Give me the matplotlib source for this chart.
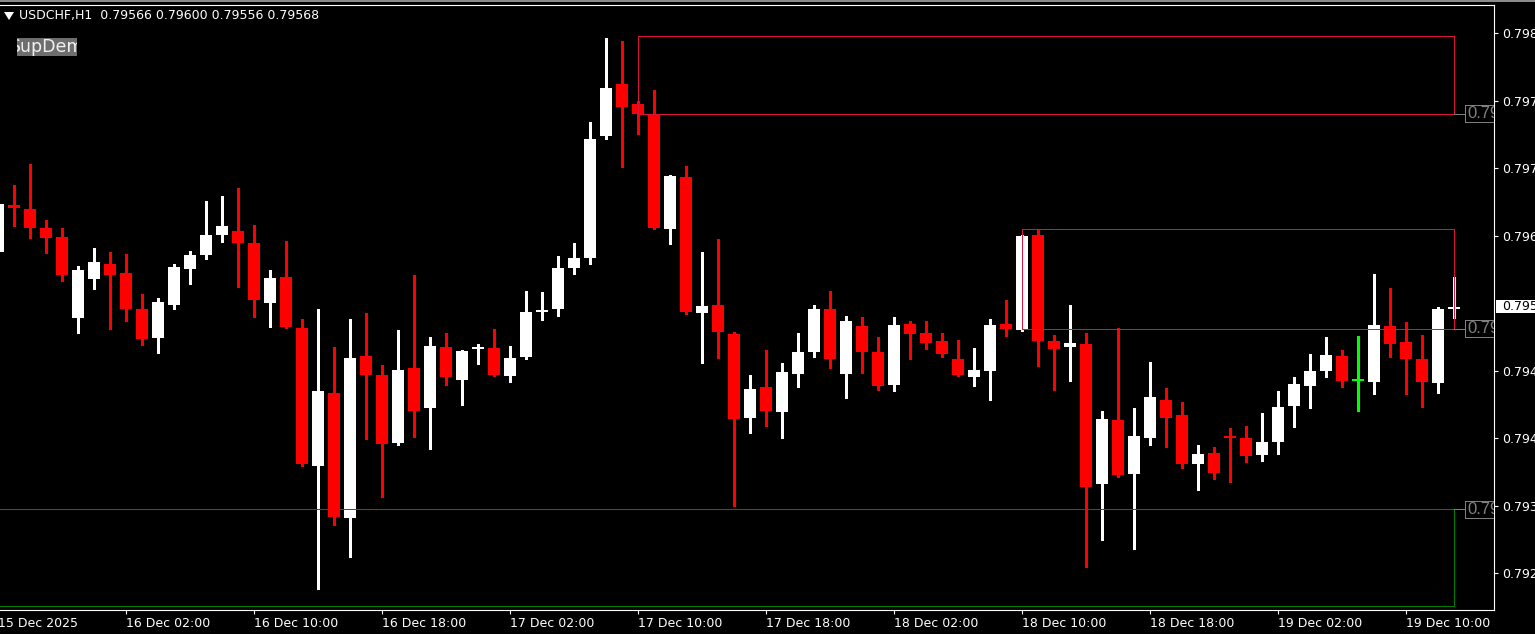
import matplotlib
matplotlib.use('Agg')
import matplotlib.pyplot as plt
from matplotlib.patches import Rectangle, Polygon
from matplotlib.lines import Line2D
from matplotlib.transforms import blended_transform_factory
import numpy as np
import pandas as pd

plt.rcParams['font.family'] = ['DejaVu Sans']

symbol = 'USDCHF,H1'
first_bar = '2025-12-15 18:00'

# H1 bars, oldest first
opens = [0.79627, 0.79678, 0.79674, 0.79653, 0.79644, 0.79556, 0.79598, 0.79614, 0.79605, 0.79566,
         0.79534, 0.79570, 0.79609, 0.79624, 0.79646, 0.79650, 0.79637, 0.79572, 0.79600, 0.79545,
         0.79396, 0.79475, 0.79340, 0.79515, 0.79494, 0.79421, 0.79502, 0.79458, 0.79525, 0.79489,
         0.79522, 0.79523, 0.79493, 0.79514, 0.79562, 0.79566, 0.79610, 0.79621, 0.79753, 0.79809,
         0.79787, 0.79777, 0.79652, 0.79708, 0.79561, 0.79570, 0.79539, 0.79448, 0.79481, 0.79454,
         0.79495, 0.79519, 0.79566, 0.79495, 0.79547, 0.79519, 0.79483, 0.79549, 0.79540, 0.79531,
         0.79512, 0.79492, 0.79499, 0.79549, 0.79543, 0.79646, 0.79531, 0.79525, 0.79528, 0.79376,
         0.79446, 0.79387, 0.79426, 0.79467, 0.79451, 0.79398, 0.79410, 0.79428, 0.79426, 0.79408,
         0.79422, 0.79461, 0.79482, 0.79498, 0.79515, 0.79489, 0.79487, 0.79547, 0.79530, 0.79511,
         0.79486, 0.79566]
highs = [0.79681, 0.79700, 0.79723, 0.79662, 0.79653, 0.79612, 0.79632, 0.79627, 0.79625, 0.79582,
         0.79577, 0.79614, 0.79628, 0.79682, 0.79688, 0.79697, 0.79656, 0.79608, 0.79639, 0.79555,
         0.79566, 0.79525, 0.79555, 0.79561, 0.79505, 0.79543, 0.79602, 0.79535, 0.79540, 0.79521,
         0.79528, 0.79544, 0.79526, 0.79585, 0.79584, 0.79623, 0.79637, 0.79768, 0.79859, 0.79856,
         0.79791, 0.79802, 0.79711, 0.79720, 0.79627, 0.79641, 0.79541, 0.79494, 0.79521, 0.79507,
         0.79540, 0.79570, 0.79585, 0.79558, 0.79557, 0.79535, 0.79557, 0.79553, 0.79553, 0.79540,
         0.79532, 0.79523, 0.79555, 0.79575, 0.79646, 0.79652, 0.79537, 0.79570, 0.79540, 0.79455,
         0.79545, 0.79458, 0.79508, 0.79480, 0.79465, 0.79418, 0.79416, 0.79437, 0.79439, 0.79453,
         0.79477, 0.79492, 0.79517, 0.79535, 0.79521, 0.79536, 0.79603, 0.79588, 0.79552, 0.79537,
         0.79568, 0.79600]
lows = [0.79625, 0.79655, 0.79642, 0.79626, 0.79596, 0.79540, 0.79587, 0.79544, 0.79553, 0.79527,
        0.79518, 0.79566, 0.79593, 0.79620, 0.79638, 0.79589, 0.79557, 0.79546, 0.79545, 0.79396,
        0.79263, 0.79332, 0.79297, 0.79425, 0.79362, 0.79419, 0.79427, 0.79414, 0.79483, 0.79462,
        0.79506, 0.79493, 0.79487, 0.79512, 0.79554, 0.79558, 0.79604, 0.79614, 0.79750, 0.79719,
        0.79755, 0.79652, 0.79636, 0.79560, 0.79507, 0.79513, 0.79353, 0.79431, 0.79439, 0.79426,
        0.79481, 0.79514, 0.79502, 0.79469, 0.79496, 0.79478, 0.79477, 0.79511, 0.79522, 0.79514,
        0.79493, 0.79482, 0.79467, 0.79536, 0.79542, 0.79504, 0.79478, 0.79488, 0.79286, 0.79316,
        0.79384, 0.79306, 0.79419, 0.79416, 0.79394, 0.79370, 0.79382, 0.79379, 0.79400, 0.79401,
        0.79409, 0.79438, 0.79458, 0.79492, 0.79481, 0.79455, 0.79474, 0.79514, 0.79474, 0.79460,
        0.79475, 0.79556]
closes = [0.79679, 0.79675, 0.79653, 0.79642, 0.79602, 0.79608, 0.79616, 0.79602, 0.79566, 0.79533,
          0.79573, 0.79611, 0.79624, 0.79646, 0.79655, 0.79637, 0.79575, 0.79599, 0.79546, 0.79398,
          0.79477, 0.79341, 0.79513, 0.79494, 0.79420, 0.79500, 0.79455, 0.79526, 0.79492, 0.79520,
          0.79524, 0.79494, 0.79513, 0.79562, 0.79565, 0.79610, 0.79621, 0.79749, 0.79805, 0.79784,
          0.79777, 0.79653, 0.79710, 0.79562, 0.79569, 0.79541, 0.79447, 0.79479, 0.79455, 0.79497,
          0.79519, 0.79566, 0.79511, 0.79553, 0.79519, 0.79482, 0.79548, 0.79539, 0.79529, 0.79517,
          0.79494, 0.79500, 0.79548, 0.79544, 0.79645, 0.79531, 0.79522, 0.79529, 0.79373, 0.79447,
          0.79386, 0.79428, 0.79470, 0.79448, 0.79398, 0.79409, 0.79388, 0.79426, 0.79407, 0.79422,
          0.79460, 0.79484, 0.79499, 0.79516, 0.79488, 0.79489, 0.79548, 0.79528, 0.79512, 0.79487,
          0.79566, 0.79568]

# supply / demand zones (bar index from, bar index to, top, bottom)
zone_start = [40, 64, -20]
zone_end = [91, 91, 91]
zone_top = [0.79861, 0.79652, 0.79349]
zone_bottom = [0.79777, 0.79544, 0.79244]
zone_label = [0.79777, 0.79544, 0.79349]
zone_colors = ['#dc143c', '#dc143c', '#008000']

price_ticks = [0.79864, 0.79791, 0.79718, 0.79645, 0.79499, 0.79426, 0.79353, 0.79280]
y_min, y_max = 0.79240, 0.79895

W, H = 1535, 634
px = (y_max - y_min) / 605.5   # price per pixel

o = np.array(opens); h = np.array(highs); l = np.array(lows); c = np.array(closes)
n = len(o)
x = np.arange(n)
times = pd.date_range(first_bar, periods=n, freq='h')

fig = plt.figure(figsize=(W / 100, H / 100), dpi=100, facecolor='black')
ax = fig.add_axes([0, 24 / H, 1494 / W, 605.5 / H], facecolor='black')
ax.set_xlim(0.125, 93.5)
ax.set_ylim(y_min, y_max)

cols = np.where(c > o, '#ffffff', np.where(c < o, '#ff0000', '#00ff00'))
ax.vlines(x, l, h, colors=cols, lw=0.75, zorder=2, antialiased=False)
body = np.abs(c - o)
bh = np.maximum(body, 2 * px)
ax.bar(x, bh, bottom=np.minimum(o, c) - (bh - body) / 2, width=0.69,
       color=cols, lw=0, zorder=3, antialiased=False)

# zones
for s, e, t, b, lab, col in zip(zone_start, zone_end, zone_top, zone_bottom, zone_label, zone_colors):
    ax.add_patch(Rectangle((s, b), e - s, t - b, fill=False, ec=col, lw=0.72, zorder=4,
                           antialiased=False))
    ax.plot([e, e + 0.69], [lab, lab], color='#808080', lw=0.72, zorder=4, antialiased=False)
    ax.add_patch(Rectangle((e + 0.69, lab - 8.5 * px), 3, 17 * px, fc='black', ec='#808080',
                           lw=0.72, zorder=5, antialiased=False))
    ax.text(e + 0.81, lab, f'{lab:.5f}', color='#808080', fontsize=12,
            family=['Liberation Sans', 'DejaVu Sans'], ha='left',
            va='center', zorder=6, clip_on=True)

# axes frame
ax.spines['left'].set_visible(False)
for side in ['top', 'right', 'bottom']:
    ax.spines[side].set_color('white')
    ax.spines[side].set_linewidth(0.8)

ax.yaxis.tick_right()
ax.set_yticks(price_ticks, [f'{p:.5f}' for p in price_ticks])
ax.tick_params(axis='y', colors='white', length=3, width=0.8, pad=2.5, labelsize=9)

tick_idx = [i for i in range(1, n) if times[i].hour in (2, 10, 18)]
ax.set_xticks(tick_idx, [times[i].strftime('%d %b %H:%M') for i in tick_idx], ha='left')
ax.tick_params(axis='x', colors='white', length=3, width=0.8, pad=2, labelsize=9)
ax.annotate(times[0].strftime('%d %b %Y'), xy=(0, 0), xycoords=('data', 'axes fraction'),
            xytext=(0, -5), textcoords='offset points', ha='left', va='top',
            color='white', fontsize=9, annotation_clip=False)

# current price box on the price scale
tr = blended_transform_factory(ax.transAxes, ax.transData)
ax.add_patch(Rectangle((1 + 2 / 1494, c[-1] - 6.5 * px), 0.05, 13 * px, transform=tr,
                       fc='white', ec='none', clip_on=False, zorder=6))
ax.text(1 + 8 / 1494, c[-1], f'{c[-1]:.5f}', transform=tr, color='black', fontsize=9,
        ha='left', va='center', clip_on=False, zorder=7)

# header and label
fig.add_artist(Line2D([0, 1], [1 - 0.8 / H] * 2, color='#a8a8a8', lw=1.2))
fig.add_artist(Polygon([[4 / W, 1 - 12 / H], [14 / W, 1 - 12 / H], [9 / W, 1 - 20 / H]],
                       closed=True, fc='white', ec='none', transform=fig.transFigure))
fig.text(19 / W, 1 - 16 / H, f'{symbol}  {o[-1]:.5f} {h[-1]:.5f} {l[-1]:.5f} {c[-1]:.5f}',
         color='white', fontsize=9, ha='left', va='center')
btn = Rectangle((17 / W, 1 - 56 / H), 60 / W, 18 / H, transform=fig.transFigure,
                fc='#6e6e6e', ec='none')
fig.add_artist(btn)
t = fig.text(47 / W, 1 - 47 / H, 'SupDem', color='#f0f0f0', fontsize=12.5,
             ha='center', va='center')
t.set_clip_path(btn)

fig.savefig('out.png', dpi=100, facecolor='black')
